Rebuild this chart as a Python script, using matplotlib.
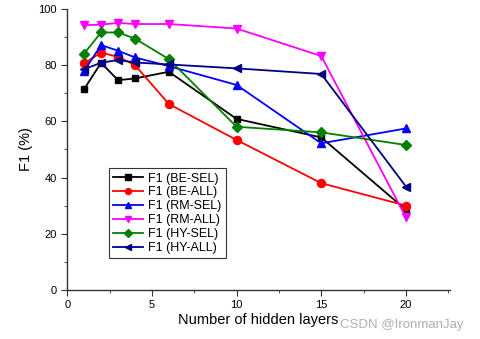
import matplotlib
matplotlib.use('Agg')
import matplotlib.pyplot as plt
from matplotlib.ticker import MultipleLocator

plt.rcParams['font.family'] = ['Liberation Sans', 'DejaVu Sans']

layers = [1, 2, 3, 4, 6, 10, 15, 20]
be_sel = [71.5, 80.9, 74.7, 75.3, 77.7, 60.9, 54.3, 28.5]
be_all = [80.7, 84.5, 83.0, 80.1, 66.2, 53.4, 38.0, 30.0]
rm_sel = [78.0, 87.2, 85.2, 82.8, 79.7, 73.0, 52.2, 57.5]
rm_all = [94.3, 94.5, 95.1, 94.7, 94.7, 93.1, 83.3, 25.8]
hy_sel = [84.2, 91.7, 91.7, 89.5, 82.2, 58.1, 56.1, 51.6]
hy_all = [78.6, 80.9, 81.9, 81.0, 80.3, 78.9, 76.9, 36.8]

series = [
    ('F1 (BE-SEL)', be_sel, 'black', 's'),
    ('F1 (BE-ALL)', be_all, 'red', 'o'),
    ('F1 (RM-SEL)', rm_sel, 'blue', '^'),
    ('F1 (RM-ALL)', rm_all, 'magenta', 'v'),
    ('F1 (HY-SEL)', hy_sel, 'green', 'D'),
    ('F1 (HY-ALL)', hy_all, 'navy', '<'),
]

fig = plt.figure(figsize=(4.8, 3.39), dpi=100)
ax = fig.add_axes([0.14, 0.145, 0.7975, 0.828])

for label, vals, color, marker in series:
    ms = 5 if marker in ('D', 's') else 5.8
    ax.plot(layers, vals, color=color, marker=marker, markersize=ms,
            linewidth=1.3, label=label)

ax.set_xlim(0, 22.6)
ax.set_ylim(0, 100)
ax.xaxis.set_major_locator(MultipleLocator(5))
ax.xaxis.set_minor_locator(MultipleLocator(2.5))
ax.yaxis.set_major_locator(MultipleLocator(20))
ax.yaxis.set_minor_locator(MultipleLocator(10))
ax.spines['top'].set_visible(False)
ax.spines['right'].set_visible(False)
for s in ('left', 'bottom'):
    ax.spines[s].set_color('#333333')
    ax.spines[s].set_linewidth(1.0)
ax.tick_params(which='major', direction='out', length=4, labelsize=8, colors='#333333', labelcolor='black')
ax.tick_params(which='minor', direction='out', length=2.5, colors='#333333')

ax.set_xlabel('Number of hidden layers', fontsize=10.5, labelpad=2)
ax.set_ylabel('F1 (%)', fontsize=10.5, labelpad=4)

leg = ax.legend(loc='lower left', bbox_to_anchor=(0.093, 0.09), fontsize=9,
                frameon=True, fancybox=False, edgecolor='black',
                handlelength=2.4, labelspacing=0.15, borderpad=0.35,
                handletextpad=0.4, markerscale=0.75)
leg.get_frame().set_linewidth(0.8)

fig.text(0.965, 0.04, 'CSDN @IronmanJay', fontsize=9.5, color='#b0b0b0',
         ha='right', va='center')

fig.savefig('out.png', dpi=100)
